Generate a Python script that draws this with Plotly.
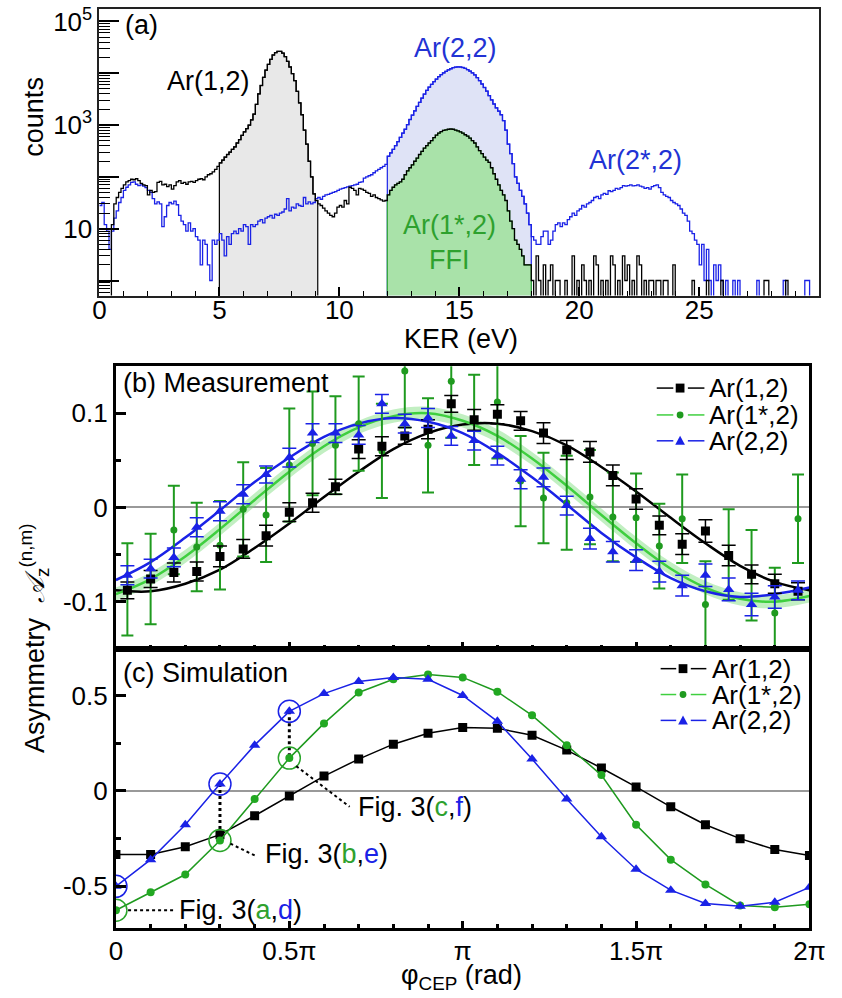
import plotly.graph_objects as go

W, H = 842, 998
def fx(p): return p / W
def fy(p): return 1 - p / H

FONT = "Liberation Sans, Arial, sans-serif"
BLUE = "#1a22e6"
GREEN = "#1f9a1f"
GREEN_FIT = "#3fcf3f"
GREEN_TXT = "#2ea12e"
BLUE_TXT = "#2233d4"

# ---------------- panel (a): KER histograms, 0.1 eV bins, 0..30 eV ----------------
ker_bin = 0.1
counts_black = [
    0, 0, 0, 0, 0, 12, 30, 40, 50, 60,
    70, 80, 85, 90, 88, 92, 85, 75, 70, 68,
    45, 55, 50, 52, 78, 82, 70, 72, 65, 70,
    58, 68, 80, 85, 75, 78, 72, 80, 82, 78,
    85, 90, 92, 88, 100, 110, 115, 125, 140, 160,
    186, 210, 240, 270, 300, 340, 380, 450, 525, 630,
    740, 850, 1000, 1260, 1620, 2500, 4000, 5800, 8300, 11500,
    14800, 18500, 22500, 25000, 26500, 26500, 24500, 21000, 17000, 13200,
    9800, 7200, 4470, 2690, 1580, 800, 427, 200, 100, 47,
    35, 30, 28, 25, 22, 20, 18, 17, 20, 26,
    28, 26, 35, 30, 63, 60, 55, 45, 60, 58,
    55, 50, 48, 42, 45, 40, 38, 36, 34, 35,
    45, 55, 63, 70, 75, 80, 90, 110, 130, 150,
    170, 200, 230, 270, 310, 360, 400, 450, 500, 570,
    640, 700, 750, 790, 810, 830, 840, 830, 800, 770,
    740, 700, 650, 610, 560, 500, 450, 380, 320, 280,
    240, 210, 190, 150, 115, 90, 70, 55, 45, 35,
    22, 14, 10, 6, 5, 4, 3, 2, 2, 2,
    1, 0, 3, 1, 0, 2, 0, 1, 2, 0,
    1, 1, 0, 0, 1, 0, 0, 3, 0, 1,
    0, 2, 1, 0, 1, 0, 3, 2, 0, 1,
    0, 1, 0, 3, 2, 0, 1, 0, 3, 1,
    2, 0, 1, 0, 3, 2, 0, 1, 0, 1,
    1, 0, 1, 1, 0, 1, 1, 0, 0, 2,
    0, 0, 0, 0, 0, 0, 0, 1, 0, 0,
    0, 0, 0, 1, 0, 0, 0, 0, 0, 1,
    0, 0, 0, 0, 0, 0, 0, 0, 0, 0,
    0, 0, 0, 0, 0, 0, 0, 1, 1, 0,
    0, 0, 0, 0, 0, 0, 1, 0, 0, 0,
    0, 0, 0, 0, 0, 0, 0, 0, 0, 0,
]
counts_blue = [
    28, 32, 12, 9, 4, 9, 16, 22, 32, 40,
    55, 63, 70, 78, 80, 72, 68, 70, 66, 62,
    55, 50, 38, 30, 33, 30, 11, 17, 28, 32,
    30, 34, 29, 18, 14, 12, 9, 13, 9, 10,
    7, 6, 2, 6, 5, 2, 1, 6, 5, 6,
    8, 6, 3, 7, 5, 8, 9, 8, 10, 9,
    12, 11, 5, 12, 11, 12, 14, 15, 13, 16,
    17, 18, 16, 19, 18, 20, 21, 24, 38, 22,
    26, 25, 30, 28, 27, 40, 30, 33, 30, 32,
    38, 40, 37, 42, 45, 46, 48, 50, 52, 55,
    58, 60, 62, 64, 66, 68, 70, 72, 78, 80,
    95, 100, 105, 110, 120, 130, 140, 150, 160, 175,
    250, 290, 340, 400, 480, 580, 700, 830, 1020, 1280,
    1550, 1870, 2300, 2750, 3300, 3950, 4650, 5400, 6100, 6900,
    7700, 8600, 9400, 10200, 10900, 11600, 12200, 12800, 13100, 13300,
    13200, 12900, 12400, 11700, 11000, 10200, 9300, 8200, 7200, 6200,
    5300, 4500, 3700, 3050, 2550, 2150, 1850, 1580, 1220, 800,
    430, 280, 180, 100, 75, 55, 42, 30, 20, 12,
    7, 6, 5, 5, 7, 9, 9, 5, 6, 9,
    12, 13, 11, 13, 12, 15, 17, 20, 18, 22,
    24, 28, 26, 30, 32, 35, 40, 42, 38, 45,
    48, 46, 54, 52, 55, 60, 58, 62, 68, 66,
    68, 70, 67, 68, 70, 66, 64, 60, 62, 58,
    65, 68, 70, 62, 50, 45, 42, 40, 35, 32,
    30, 28, 24, 20, 18, 14, 9, 8, 6, 5,
    2, 5, 1, 4, 1, 0, 2, 1, 2, 1,
    0, 1, 0, 0, 1, 0, 1, 0, 0, 0,
    0, 0, 0, 0, 1, 0, 0, 0, 0, 0,
    0, 0, 0, 0, 0, 1, 0, 0, 0, 0,
    0, 0, 0, 0, 1, 1, 0, 0, 0, 0,
]
gate_12 = (5.0, 9.1)      # Ar(1,2) KER gate
gate_ffi = (12.0, 18.0)   # Ar(1*,2) / Ar(2,2) gate
ker_ticks = [0, 5, 10, 15, 20, 25]
count_ticks = [1, 10, 100, 1000, 10000, 100000]
count_ticktext = ["", "10", "", "10<sup>3</sup>", "", "10<sup>5</sup>"]

# ---------------- panel (b): measurement ----------------
phi_meas = [0.033, 0.1, 0.167, 0.233, 0.3, 0.367, 0.433, 0.5, 0.567, 0.633,
            0.7, 0.767, 0.833, 0.9, 0.967, 1.033, 1.1, 1.167, 1.233, 1.3,
            1.367, 1.433, 1.5, 1.567, 1.633, 1.7, 1.767, 1.833, 1.9, 1.967]
meas_12 = [-0.088, -0.076, -0.069, -0.068, -0.052, -0.044, -0.030, -0.005, 0.005, 0.022,
           0.062, 0.065, 0.076, 0.083, 0.110, 0.093, 0.099, 0.092, 0.079, 0.061,
           0.059, 0.034, 0.009, -0.019, -0.039, -0.025, -0.051, -0.071, -0.081, -0.089]
err_12 = [0.009, 0.009, 0.010, 0.010, 0.011, 0.010, 0.011, 0.010, 0.010, 0.008,
          0.010, 0.010, 0.009, 0.010, 0.009, 0.011, 0.010, 0.010, 0.011, 0.010,
          0.011, 0.011, 0.011, 0.010, 0.011, 0.012, 0.011, 0.010, 0.010, 0.009]
meas_1s2 = [-0.087, -0.076, -0.024, -0.042, -0.040, -0.002, -0.008, 0.045, 0.068, 0.066,
            0.089, 0.060, 0.145, 0.066, 0.134, 0.093, 0.112, 0.028, 0.010, 0.005,
            0.011, -0.010, -0.011, -0.041, -0.012, -0.103, -0.050, -0.072, -0.112, -0.012]
err_1s2 = [0.049, 0.048, 0.047, 0.047, 0.047, 0.050, 0.050, 0.060, 0.055, 0.052,
           0.050, 0.050, 0.060, 0.050, 0.060, 0.048, 0.060, 0.048, 0.048, 0.050,
           0.050, 0.047, 0.047, 0.045, 0.047, 0.046, 0.048, 0.048, 0.048, 0.047]
meas_22 = [-0.072, -0.065, -0.053, -0.021, -0.004, 0.014, 0.035, 0.053, 0.079, 0.079,
           0.077, 0.110, 0.089, 0.095, 0.076, 0.071, 0.055, 0.030, 0.032, 0.002,
           -0.033, -0.047, -0.056, -0.068, -0.083, -0.072, -0.087, -0.103, -0.095, -0.088]
err_22 = [0.010, 0.010, 0.010, 0.010, 0.010, 0.010, 0.009, 0.010, 0.010, 0.010,
          0.010, 0.010, 0.010, 0.010, 0.010, 0.010, 0.010, 0.010, 0.010, 0.010,
          0.011, 0.011, 0.011, 0.011, 0.011, 0.012, 0.012, 0.012, 0.012, 0.010]
# fitted curves, read at 0.1*pi steps
phi_fit = [0.0, 0.1, 0.2, 0.3, 0.4, 0.5, 0.6, 0.7, 0.8, 0.9, 1.0,
           1.1, 1.2, 1.3, 1.4, 1.5, 1.6, 1.7, 1.8, 1.9, 2.0]
fit_12 = [-0.088, -0.089, -0.081, -0.066, -0.043, -0.017, 0.011, 0.038, 0.062, 0.079, 0.088,
          0.089, 0.081, 0.066, 0.043, 0.017, -0.011, -0.038, -0.062, -0.079, -0.088]
fit_1s2 = [-0.092, -0.076, -0.052, -0.023, 0.008, 0.038, 0.065, 0.085, 0.097, 0.100, 0.092,
           0.076, 0.052, 0.023, -0.008, -0.038, -0.065, -0.085, -0.097, -0.100, -0.094]
fit_1s2_band = [0.007, 0.007, 0.007, 0.007, 0.007, 0.007, 0.007, 0.007, 0.007, 0.007, 0.007,
                0.007, 0.007, 0.007, 0.007, 0.007, 0.007, 0.007, 0.007, 0.007, 0.007]
fit_22 = [-0.077, -0.058, -0.032, -0.003, 0.027, 0.053, 0.075, 0.089, 0.095, 0.091, 0.079,
          0.058, 0.032, 0.003, -0.027, -0.053, -0.075, -0.089, -0.095, -0.092, -0.085]

# ---------------- panel (c): simulation ----------------
phi_sim = phi_fit
sim_12 = [-0.333, -0.333, -0.292, -0.229, -0.130, -0.026, 0.078, 0.167, 0.245, 0.302, 0.333,
          0.328, 0.292, 0.214, 0.120, 0.021, -0.083, -0.177, -0.250, -0.307, -0.338]
sim_1s2 = [-0.625, -0.531, -0.438, -0.260, -0.042, 0.172, 0.354, 0.516, 0.585, 0.610, 0.595,
           0.520, 0.396, 0.240, 0.083, -0.177, -0.360, -0.490, -0.600, -0.610, -0.594]
sim_22 = [-0.500, -0.360, -0.177, 0.036, 0.240, 0.417, 0.510, 0.573, 0.594, 0.585, 0.500,
          0.365, 0.167, -0.042, -0.240, -0.410, -0.520, -0.590, -0.604, -0.583, -0.505]
fig3_idx = [0, 3, 5]
fig3_labels = ["a", "d"], ["b", "e"], ["c", "f"]
phi_ticks = [0, 0.5, 1, 1.5, 2]
phi_ticktext = ["0", "0.5π", "π", "1.5π", "2π"]
series_names = ["Ar(1,2)", "Ar(1*,2)", "Ar(2,2)"]

# ============================================================
fig = go.Figure()
FLOOR = 0.05
edges = [round(ker_bin * i, 2) for i in range(len(counts_black) + 1)]

def step_xy(counts):
    ys = [c if c > 0 else FLOOR for c in counts]
    return edges, ys + [ys[-1]]

def gate_poly(counts, e0, e1):
    i0, i1 = round(e0 / ker_bin), round(e1 / ker_bin)
    xs, ys = [e0], [FLOOR]
    for i in range(i0, i1):
        c = max(counts[i], FLOOR)
        xs += [edges[i], edges[i + 1]]
        ys += [c, c]
    xs.append(e1); ys.append(FLOOR)
    xs.append(e0); ys.append(FLOOR)
    return xs, ys

gx, gy = gate_poly(counts_black, *gate_12)
fig.add_trace(go.Scatter(x=gx, y=gy, fill="toself", fillcolor="#e8e8e8",
                         line=dict(color="black", width=1.2), mode="lines",
                         xaxis="x", yaxis="y", showlegend=False, hoverinfo="skip"))
bx, by = gate_poly(counts_blue, *gate_ffi)
fig.add_trace(go.Scatter(x=bx, y=by, fill="toself", fillcolor="#dfe3f6",
                         line=dict(color=BLUE, width=1.2), mode="lines",
                         xaxis="x", yaxis="y", showlegend=False, hoverinfo="skip"))
fx_, fy_ = gate_poly(counts_black, *gate_ffi)
fig.add_trace(go.Scatter(x=fx_, y=fy_, fill="toself", fillcolor="#a9e2a9",
                         line=dict(color="#33aa33", width=1.2), mode="lines",
                         xaxis="x", yaxis="y", showlegend=False, hoverinfo="skip"))
sx, sy = step_xy(counts_blue)
fig.add_trace(go.Scatter(x=sx, y=sy, mode="lines", line=dict(color=BLUE, width=1.3, shape="hv"),
                         xaxis="x", yaxis="y", showlegend=False))
sx, sy = step_xy(counts_black)
fig.add_trace(go.Scatter(x=sx, y=sy, mode="lines", line=dict(color="black", width=1.3, shape="hv"),
                         xaxis="x", yaxis="y", showlegend=False))

# ---- panel (b)
lo = [f - b for f, b in zip(fit_1s2, fit_1s2_band)]
hi = [f + b for f, b in zip(fit_1s2, fit_1s2_band)]
fig.add_trace(go.Scatter(x=phi_fit, y=lo, mode="lines", line=dict(width=0, shape="spline"),
                         xaxis="x2", yaxis="y2", showlegend=False))
fig.add_trace(go.Scatter(x=phi_fit, y=hi, mode="lines", line=dict(width=0, shape="spline"),
                         fill="tonexty", fillcolor="rgba(120,220,120,0.45)",
                         xaxis="x2", yaxis="y2", showlegend=False))
fig.add_trace(go.Scatter(x=phi_fit, y=fit_12, mode="lines", line=dict(color="black", width=2.5, shape="spline"),
                         xaxis="x2", yaxis="y2", showlegend=False))
fig.add_trace(go.Scatter(x=phi_fit, y=fit_1s2, mode="lines", line=dict(color=GREEN_FIT, width=2.5, shape="spline"),
                         xaxis="x2", yaxis="y2", showlegend=False))
fig.add_trace(go.Scatter(x=phi_fit, y=fit_22, mode="lines", line=dict(color=BLUE, width=2.5, shape="spline"),
                         xaxis="x2", yaxis="y2", showlegend=False))
fig.add_trace(go.Scatter(x=phi_meas, y=meas_1s2, mode="markers",
                         marker=dict(symbol="circle", size=7, color=GREEN),
                         error_y=dict(type="data", array=err_1s2, color=GREEN, thickness=2, width=6),
                         xaxis="x2", yaxis="y2", showlegend=False))
fig.add_trace(go.Scatter(x=phi_meas, y=meas_12, mode="markers",
                         marker=dict(symbol="square", size=9, color="black"),
                         error_y=dict(type="data", array=err_12, color="black", thickness=1.5, width=7),
                         xaxis="x2", yaxis="y2", showlegend=False))
fig.add_trace(go.Scatter(x=phi_meas, y=meas_22, mode="markers",
                         marker=dict(symbol="triangle-up", size=10, color=BLUE),
                         error_y=dict(type="data", array=err_22, color=BLUE, thickness=1.5, width=7),
                         xaxis="x2", yaxis="y2", showlegend=False))

# ---- panel (c)
for i in fig3_idx[1:]:
    fig.add_trace(go.Scatter(x=[phi_sim[i], phi_sim[i]], y=[sim_22[i], sim_1s2[i]], mode="lines",
                             line=dict(color="black", width=3, dash="dot"),
                             xaxis="x3", yaxis="y3", showlegend=False))
fig.add_trace(go.Scatter(x=phi_sim, y=sim_12, mode="lines+markers",
                         line=dict(color="black", width=1.5),
                         marker=dict(symbol="square", size=9, color="black"),
                         xaxis="x3", yaxis="y3", showlegend=False))
fig.add_trace(go.Scatter(x=phi_sim, y=sim_1s2, mode="lines+markers",
                         line=dict(color=GREEN, width=1.5),
                         marker=dict(symbol="circle", size=8, color="#22a822"),
                         xaxis="x3", yaxis="y3", showlegend=False))
fig.add_trace(go.Scatter(x=phi_sim, y=sim_22, mode="lines+markers",
                         line=dict(color=BLUE, width=1.5),
                         marker=dict(symbol="triangle-up", size=10, color=BLUE),
                         xaxis="x3", yaxis="y3", showlegend=False))
fig.add_trace(go.Scatter(x=[phi_sim[i] for i in fig3_idx], y=[sim_22[i] for i in fig3_idx],
                         mode="markers", marker=dict(symbol="circle-open", size=22, color=BLUE, line=dict(width=1.5)),
                         xaxis="x3", yaxis="y3", showlegend=False))
fig.add_trace(go.Scatter(x=[phi_sim[i] for i in fig3_idx], y=[sim_1s2[i] for i in fig3_idx],
                         mode="markers", marker=dict(symbol="circle-open", size=22, color="#2aa52a", line=dict(width=1.5)),
                         xaxis="x3", yaxis="y3", showlegend=False))

# ---------------- layout ----------------
TICKF = dict(family=FONT, size=26, color="black")
ax_common = dict(showgrid=False, zeroline=False, tickfont=TICKF, tickcolor="black")

layout = dict(
    width=W, height=H, margin=dict(l=0, r=0, t=0, b=0),
    paper_bgcolor="white", plot_bgcolor="white", showlegend=False,
    font=dict(family=FONT, size=27, color="black"),
    xaxis=dict(domain=[fx(95), fx(835)], range=[0, 30], anchor="y",
               tickvals=ker_ticks, ticks="inside", ticklen=9, tickwidth=1.5, ticklabelstandoff=-10,
               minor=dict(dtick=1, tick0=0, ticks="inside", ticklen=5, tickwidth=1.2, tickcolor="black"),
               showline=True, mirror=True, linecolor="#222", linewidth=2, **ax_common),
    yaxis=dict(domain=[fy(292), fy(4)], type="log", range=[-0.29, 5.24], anchor="x",
               tickvals=count_ticks, ticktext=count_ticktext, ticks="inside", ticklen=20, tickwidth=1.5,
               ticklabeloverflow="allow",
               minor=dict(tickmode="array",
                          tickvals=[m * 10 ** d for d in range(-1, 6) for m in range(2, 10)],
                          ticks="inside", ticklen=11, tickwidth=1, tickcolor="black"),
               showline=True, mirror=True, linecolor="#222", linewidth=2, **ax_common),
    xaxis2=dict(domain=[fx(112), fx(825)], range=[0, 2], anchor="y2", matches="x3",
                tickvals=phi_ticks, showticklabels=False, ticks="inside", ticklen=7, tickwidth=2.5,
                minor=dict(dtick=0.1, tick0=0, ticks="inside", ticklen=4, tickwidth=2.5, tickcolor="black"),
                showline=True, mirror=True, linecolor="black", linewidth=3, **ax_common),
    yaxis2=dict(domain=[fy(647), fy(363)], range=[-0.15, 0.15], anchor="x2",
                tickvals=[-0.1, 0, 0.1], ticktext=["-0.1", "0", "0.1"], ticks="inside", ticklen=10, tickwidth=3,
                minor=dict(tickvals=[-0.05, 0.05], ticks="inside", ticklen=5, tickwidth=3, tickcolor="black"),
                showline=True, mirror=True, linecolor="black", linewidth=3,
                showgrid=False, zeroline=True, zerolinecolor="#999", zerolinewidth=2,
                tickfont=TICKF, tickcolor="black"),
    xaxis3=dict(domain=[fx(112), fx(825)], range=[0, 2], anchor="y3",
                tickvals=phi_ticks, ticktext=phi_ticktext, ticks="inside", ticklen=7, tickwidth=2.5,
                ticklabelstandoff=-3, ticklabeloverflow="allow",
                minor=dict(dtick=0.1, tick0=0, ticks="inside", ticklen=4, tickwidth=2.5, tickcolor="black"),
                showline=True, mirror=True, linecolor="black", linewidth=3, **ax_common),
    yaxis3=dict(domain=[fy(928), fy(647)], range=[-0.72, 0.745], anchor="x3",
                tickvals=[-0.5, 0, 0.5], ticktext=["-0.5", "0", "0.5"], ticks="inside", ticklen=10, tickwidth=3,
                minor=dict(tickvals=[-0.25, 0.25], ticks="inside", ticklen=5, tickwidth=3, tickcolor="black"),
                showline=True, mirror=True, linecolor="black", linewidth=3,
                showgrid=False, zeroline=True, zerolinecolor="#999", zerolinewidth=1.5,
                tickfont=TICKF, tickcolor="black"),
)
fig.update_layout(**layout)

ann = []
def text(x, y, s, color="black", size=27, xanchor="center", angle=0):
    ann.append(dict(x=fx(x), y=fy(y), xref="paper", yref="paper", text=s, showarrow=False,
                    xanchor=xanchor, yanchor="middle", textangle=angle,
                    font=dict(family=FONT, size=size, color=color)))

# panel (a) labels
text(119, 20, "(a)", xanchor="left")
text(207, 76, "Ar(1,2)")
text(461, 43, "Ar(2,2)", color=BLUE_TXT)
text(646, 156, "Ar(2*,2)", color=BLUE_TXT)
text(455, 221, "Ar(1*,2)", color=GREEN_TXT)
text(455, 256, "FFI", color=GREEN_TXT)
text(467, 336, "KER (eV)")
text(28, 112, "counts", angle=-90)
# panels (b), (c)
text(117, 380, "(b) Measurement", xanchor="left")
text(117, 671, "(c) Simulation", xanchor="left")
text(28, 636, "Asymmetry  <i>𝒜</i><sub>z</sub><sup>(n,m)</sup>", angle=-90)
text(467, 977, "φ<sub>CEP</sub> (rad)")

# Fig. 3 labels (positions in data units of panel c)
fig3_pos = [(0.177, -0.625), (0.424, -0.333), (0.691, -0.083)]
for (lx, ly), (g, b) in zip(fig3_pos, fig3_labels):
    ann.append(dict(x=lx, y=ly, xref="x3", yref="y3", showarrow=False, xanchor="left", yanchor="middle",
                    text=f"Fig. 3(<span style='color:{GREEN_TXT}'>{g}</span>,<span style='color:{BLUE}'>{b}</span>)",
                    font=dict(family=FONT, size=27, color="black")))

shapes = []
leaders = [((0.035, -0.625), (0.165, -0.625)), ((0.33, -0.276), (0.407, -0.344)), ((0.52, 0.13), (0.674, -0.083))]
for (x0, y0), (x1, y1) in leaders:
    shapes.append(dict(type="line", xref="x3", yref="y3", x0=x0, y0=y0, x1=x1, y1=y1,
                       line=dict(color="black", width=2, dash="dot")))

# manual legends
def legend(items_y, seg, mcx, tx):
    styles = [("square", "black"), ("circle", GREEN), ("triangle", BLUE)]
    for yy, (sym, col), name in zip(items_y, styles, series_names):
        lc = "black" if col == "black" else (GREEN_FIT if col == GREEN else BLUE)
        for a, b in seg:
            shapes.append(dict(type="line", xref="paper", yref="paper", x0=fx(a), x1=fx(b), y0=fy(yy), y1=fy(yy),
                               line=dict(color=lc, width=1.5)))
        if sym == "square":
            shapes.append(dict(type="rect", xref="paper", yref="paper", x0=fx(mcx - 4.5), x1=fx(mcx + 4.5),
                               y0=fy(yy + 4.5), y1=fy(yy - 4.5), fillcolor="black", line=dict(width=0)))
        elif sym == "circle":
            shapes.append(dict(type="circle", xref="paper", yref="paper", x0=fx(mcx - 3.5), x1=fx(mcx + 3.5),
                               y0=fy(yy + 3.5), y1=fy(yy - 3.5), fillcolor=GREEN, line=dict(width=0)))
        else:
            p = (f"M {fx(mcx - 5)} {fy(yy + 4)} L {fx(mcx + 5)} {fy(yy + 4)} L {fx(mcx)} {fy(yy - 5)} Z")
            shapes.append(dict(type="path", xref="paper", yref="paper", path=p, fillcolor=BLUE, line=dict(width=0)))
        text(tx, yy, name, xanchor="left", size=26)

legend([385, 412, 438], [(668, 685), (700, 717)], 692, 720)
legend([667, 693, 719], [(672, 688), (703, 719)], 695, 723)

fig.update_layout(annotations=ann, shapes=shapes)
fig.write_html("out.html", config={"displayModeBar": False},
               post_script="document.body.style.margin='0px';document.body.style.overflow='hidden';")
